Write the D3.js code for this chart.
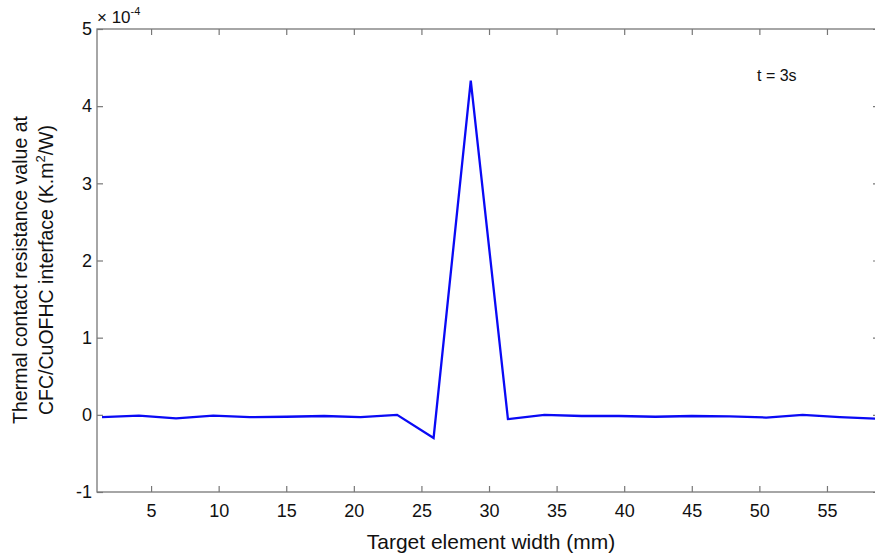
<!DOCTYPE html>
<html>
<head>
<meta charset="utf-8">
<script src="https://cdn.jsdelivr.net/npm/d3@7"></script>
<style>
  body { margin: 0; background: #fff; }
  svg { display: block; font-family: "Liberation Sans", Arial, sans-serif; }
</style>
</head>
<body>
<svg></svg>
<script>
// Target element width (mm)
const widths = [1.37, 4.1, 6.85, 9.6, 12.3, 15.0, 17.8, 20.5, 23.2, 25.9, 28.65,
                31.4, 34.1, 36.85, 39.6, 42.3, 45.0, 47.8, 50.5, 53.2, 55.95, 58.7];
// Thermal contact resistance (x 1e-4 K.m2/W)
const resistance = [-0.03, -0.01, -0.045, -0.01, -0.03, -0.025, -0.015, -0.03, 0.0, -0.30, 4.33,
                    -0.055, 0.0, -0.015, -0.015, -0.025, -0.015, -0.02, -0.035, 0.0, -0.03, -0.05];
const xTicks = [5, 10, 15, 20, 25, 30, 35, 40, 45, 50, 55];
const yTicks = [-1, 0, 1, 2, 3, 4, 5];

const width = 875;
const height = 559;
const plotLeft = 97, plotRight = 879, plotTop = 29, plotBottom = 492;

const svg = d3.select("svg")
    .attr("width", width)
    .attr("height", height);

const xScale = d3.scaleLinear().domain([1, 58.85]).range([plotLeft, plotRight]);
const yScale = d3.scaleLinear().domain([-1, 5]).range([plotBottom, plotTop]);

const axisColor = "#777";

// box
svg.append("rect")
    .attr("x", plotLeft).attr("y", plotTop)
    .attr("width", plotRight - plotLeft).attr("height", plotBottom - plotTop)
    .attr("fill", "none")
    .attr("stroke", axisColor)
    .attr("stroke-width", 1.3);

// bottom axis with labels, ticks pointing inward
const gx = svg.append("g")
    .attr("transform", "translate(0," + plotBottom + ")")
    .call(d3.axisBottom(xScale).tickValues(xTicks).tickSize(-6).tickPadding(12));

// top axis, ticks only
const gxTop = svg.append("g")
    .attr("transform", "translate(0," + plotTop + ")")
    .call(d3.axisTop(xScale).tickValues(xTicks).tickSize(-6).tickFormat(""));

// left axis with labels (plain hyphen for negatives)
const gy = svg.append("g")
    .attr("transform", "translate(" + plotLeft + ",0)")
    .call(d3.axisLeft(yScale).tickValues(yTicks).tickSize(-6).tickPadding(5).tickFormat(d => String(d)));

// right axis, ticks only
const gyRight = svg.append("g")
    .attr("transform", "translate(" + plotRight + ",0)")
    .call(d3.axisRight(yScale).tickValues(yTicks).tickSize(-6).tickFormat(""));

[gx, gxTop, gy, gyRight].forEach(g => {
    g.select(".domain").remove();
    g.selectAll(".tick line").attr("stroke", axisColor).attr("stroke-width", 1.2);
    g.selectAll(".tick text")
        .attr("fill", "#111")
        .style("font-size", "18px")
        .style("font-family", "Liberation Sans, Arial, sans-serif");
});

// exponent label
const expo = svg.append("text")
    .attr("x", plotLeft)
    .attr("y", plotTop - 6)
    .attr("fill", "#111")
    .style("font-size", "17px");
expo.append("tspan").text("\u00d7 10");
expo.append("tspan").attr("dy", -8).style("font-size", "11px").text("-4");

// data line
const line = d3.line()
    .x((d, i) => xScale(widths[i]))
    .y(d => yScale(d));

svg.append("path")
    .datum(resistance)
    .attr("d", line)
    .attr("fill", "none")
    .attr("stroke", "#0a0af5")
    .attr("stroke-width", 2.3)
    .attr("stroke-linejoin", "miter");

// annotation
svg.append("text")
    .attr("x", 757)
    .attr("y", 81)
    .attr("fill", "#111")
    .style("font-size", "16px")
    .text("t = 3s");

// x label
svg.append("text")
    .attr("x", 491)
    .attr("y", 549)
    .attr("text-anchor", "middle")
    .attr("fill", "#111")
    .style("font-size", "21px")
    .text("Target element width (mm)");

// y label, two lines
const yLabel = svg.append("text")
    .attr("transform", "translate(0,270) rotate(-90)")
    .attr("text-anchor", "middle")
    .attr("fill", "#111")
    .style("font-size", "19.5px");
yLabel.append("tspan").attr("x", 0).attr("y", 27).text("Thermal contact resistance value at");
const line2 = yLabel.append("tspan").attr("x", 0).attr("y", 53);
line2.append("tspan").text("CFC/CuOFHC interface (K.m");
line2.append("tspan").attr("dy", -8).style("font-size", "13px").text("2");
line2.append("tspan").attr("dy", 8).text("/W)");
</script>
</body>
</html>
